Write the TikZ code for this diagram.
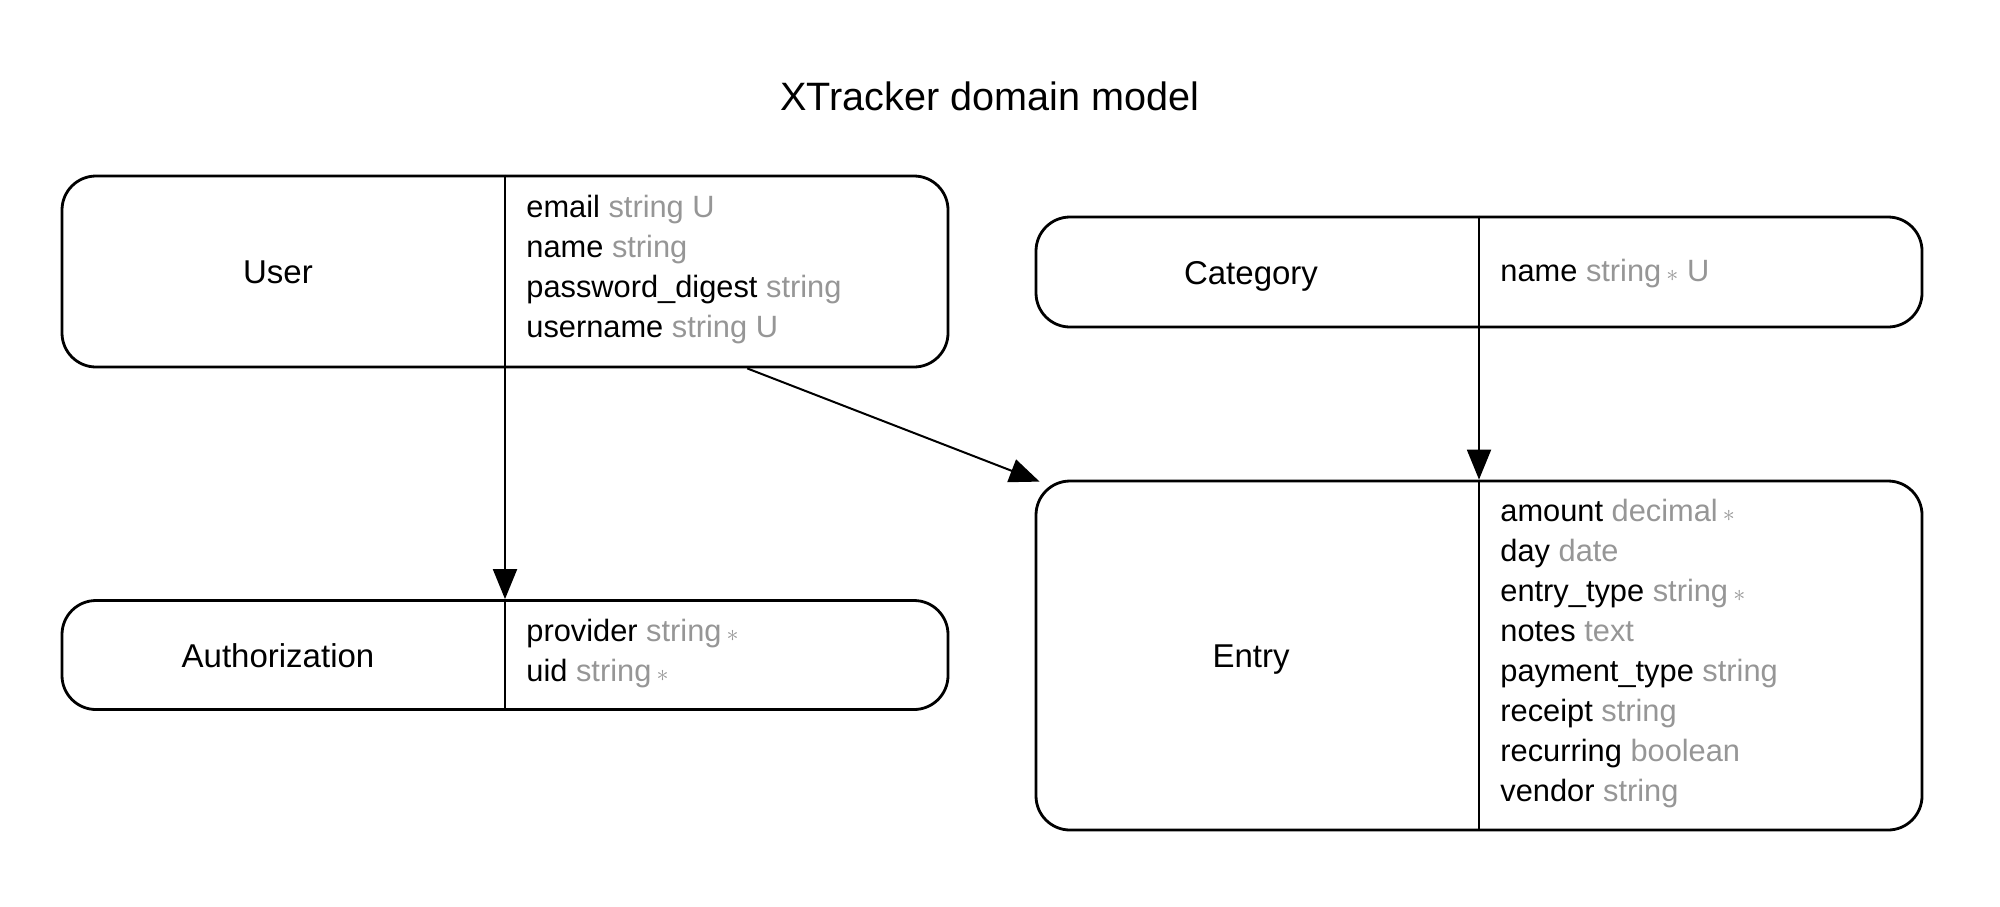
\documentclass[tikz,border=0pt]{standalone}
\usepackage{fontspec}
\setmainfont{Liberation Sans}
\usepackage{tikz}
\usetikzlibrary{positioning}
\usetikzlibrary{arrows.meta}
\usetikzlibrary{calc}

\definecolor{attrgray}{RGB}{150,150,150}
\newcommand{\req}{\,{\fontsize{12}{14}\selectfont$\ast$}}

\begin{document}
\begin{tikzpicture}[x=0.5pt,y=-0.5pt,
    entity/.style={draw, line width=1.4pt, rounded corners=17pt, minimum width=443pt, inner sep=0pt},
    ename/.style={anchor=base, font=\fontsize{16.5}{20}\selectfont},
    attr/.style={anchor=base west, inner sep=0pt, font=\fontsize{15.4}{20}\selectfont},
    link/.style={line width=1pt, -{Triangle[length=15pt,width=12pt]}}]

  \useasboundingbox (0,0) rectangle (2000,906);

  \def\lx{505};   % centre of left column
  \def\rx{1479};  % centre of right column
  \def\dy{40};    % attribute line spacing

  %title
  \node[font=\fontsize{19.8}{24}\selectfont] (title) at (990,96) {XTracker domain model};

  %boxes
  \node[entity, minimum height=95.5pt] (user) at (\lx,271.5) {};
  \node[entity, minimum height=55pt] (category) at (\rx,272) {};
  \node[entity, minimum height=54.5pt] (authorization) at (\lx,655) {};
  \node[entity, minimum height=174.5pt] (entry) at (\rx,655.5) {};

  \foreach \name in {user,category,authorization,entry}{
    \draw[line width=1.4pt] (\name.north) -- (\name.south);
  }

  %names
  \node[ename] (userName) at (\lx-227,283) {User};
  \node[ename] (categoryName) at (\rx-228,284) {Category};
  \node[ename] (authorizationName) at (\lx-227,667) {Authorization};
  \node[ename] (entryName) at (\rx-228,667) {Entry};

  %attributes
  \foreach \i/\key/\type in {0/email/string U,1/name/string,2/password\_digest/string,3/username/string U}{
    \node[attr] (userA\i) at (\lx+21, 217.5 + \i*\dy) {\key\ {\color{attrgray}\type}};
  }

  \foreach \i/\key/\type in {0/name/string\req\ U}{
    \node[attr] (categoryA\i) at (\rx+21, 281 + \i*\dy) {\key\ {\color{attrgray}\type}};
  }

  \foreach \i/\key/\type in {0/provider/string\req,1/uid/string\req}{
    \node[attr] (authorizationA\i) at (\lx+21, 641 + \i*\dy) {\key\ {\color{attrgray}\type}};
  }

  \foreach \i/\key/\type in {0/amount/decimal\req,1/day/date,2/entry\_type/string\req,3/notes/text,
      4/payment\_type/string,5/receipt/string,6/recurring/boolean,7/vendor/string}{
    \node[attr] (entryA\i) at (\rx+21, 521 + \i*\dy) {\key\ {\color{attrgray}\type}};
  }

  %links
  \coordinate (userOut) at ($(user.south)!0.545!(user.south east)$);
  \coordinate (entryIn) at ($(entry.north west)+(5,2)$);
  \draw[link] (user.south) -- (authorization.north);
  \draw[link] (category.south) -- (entry.north);
  \draw[link] (userOut) -- (entryIn);

\end{tikzpicture}
\end{document}
